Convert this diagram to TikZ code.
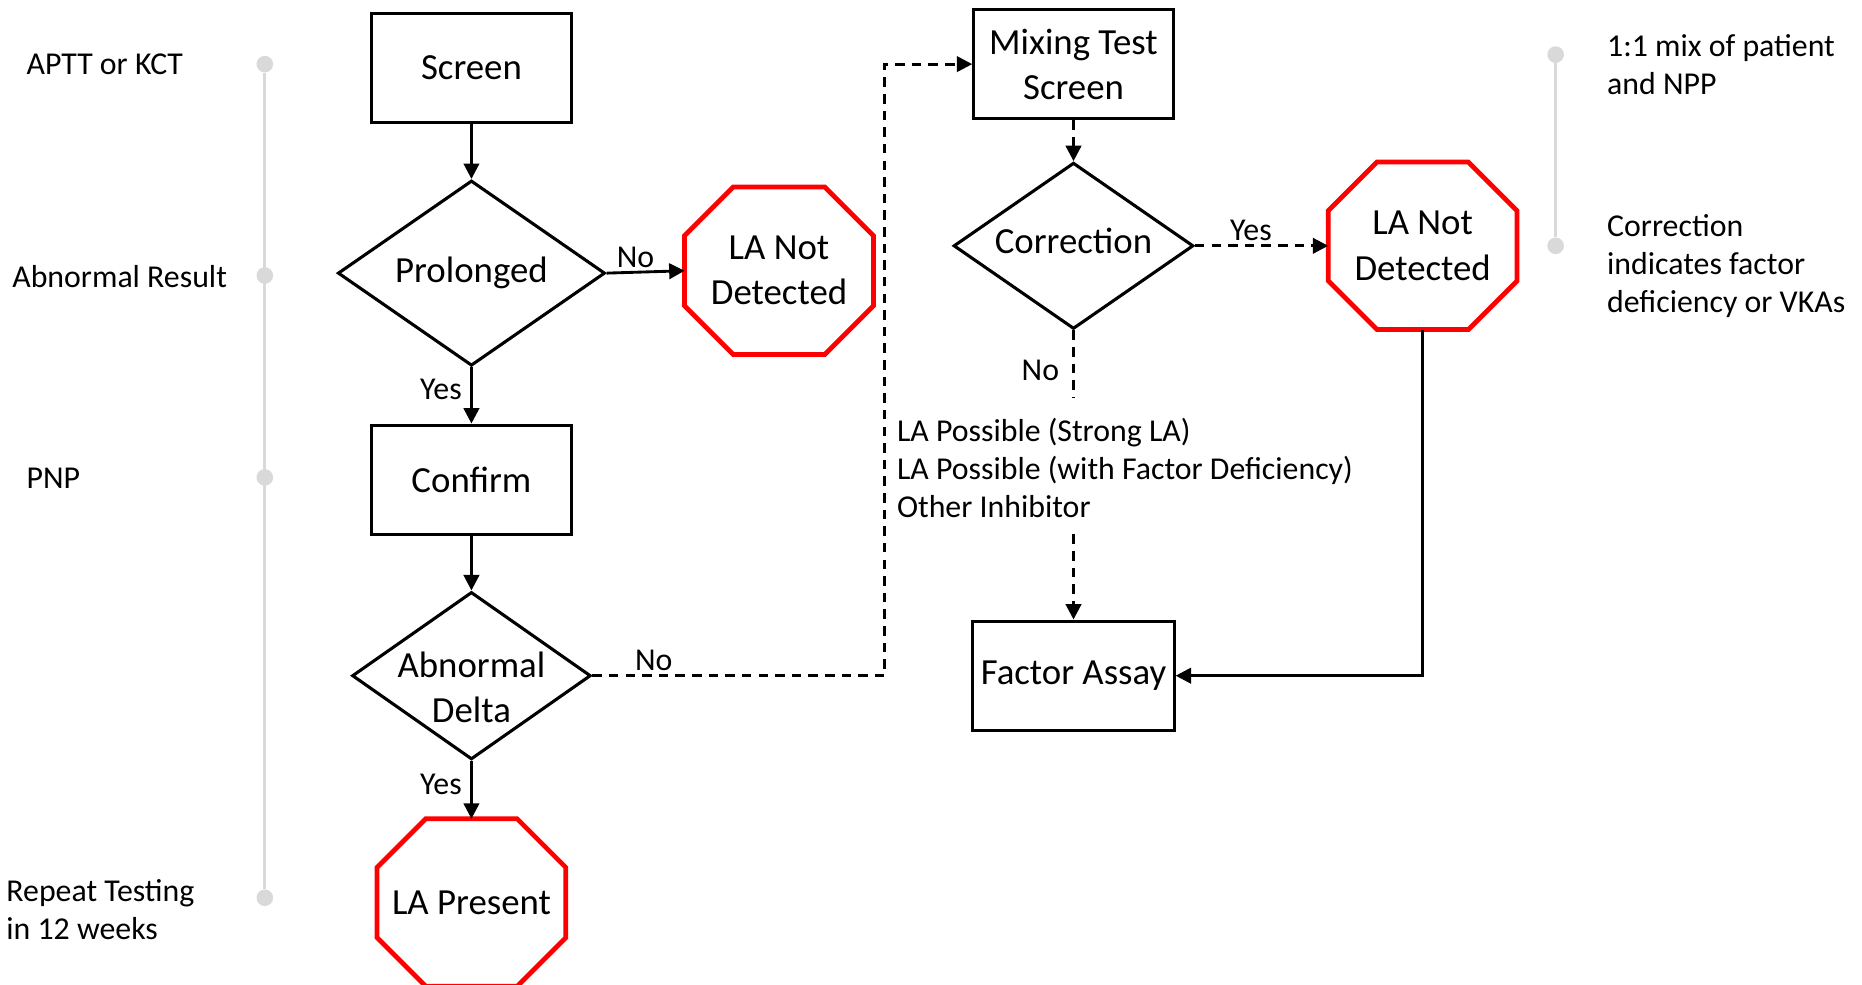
\documentclass[tikz,border=0pt]{standalone}
\usepackage{fontspec}
\setmainfont{Carlito}
\usetikzlibrary{shapes.geometric,arrows.meta}
\definecolor{tlgray}{HTML}{D9D9D9}
\definecolor{stopred}{HTML}{FF0000}
\newcommand{\nodefont}{\fontsize{15.5}{19}\selectfont}
\newcommand{\notefont}{\fontsize{13.4}{16}\selectfont}
% octagon drawn round a stop node
\newcommand{\octagonaround}[1]{%
  \draw[stopred, line width=2pt, line join=miter]
    ([xshift=20.5pt]#1.north west) -- ([xshift=-20.5pt]#1.north east)
    -- ([yshift=-20.5pt]#1.north east) -- ([yshift=20.5pt]#1.south east)
    -- ([xshift=-20.5pt]#1.south east) -- ([xshift=20.5pt]#1.south west)
    -- ([yshift=20.5pt]#1.south west) -- ([yshift=-20.5pt]#1.north west) -- cycle;}
\begin{document}
\begin{tikzpicture}[x=0.5pt, y=-0.5pt,
    procbox/.style={draw, line width=1.3pt, minimum width=84pt, minimum height=46pt, align=center, font=\nodefont},
    decbox/.style={diamond, draw, line width=1.3pt, aspect=1.43, inner sep=0pt},
    stopbox/.style={rectangle, outer sep=0pt, minimum width=79.5pt, minimum height=70.5pt, align=center, font=\nodefont},
    flowarrow/.style={line width=1.2pt, -{Triangle[length=6.5pt,width=6.5pt]}},
    optarrow/.style={flowarrow, dash pattern=on 4pt off 3pt},
    yesno/.style={font=\notefont, inner sep=1.5pt},
    sidenote/.style={font=\notefont, align=left, anchor=west, inner sep=0pt},
    decnote/.style={font=\nodefont, align=center},
    tldot/.style={circle, fill=tlgray, minimum size=7pt, inner sep=0pt},
    tlline/.style={draw=tlgray, line width=1.2pt}]
    \useasboundingbox (0,0) rectangle (1568,829);
    % Draw left time line
    \node[tldot] (l1) at (223,54) {};
    \node[tldot] (l2) at (223,232) {};
    \node[tldot] (l3) at (223,402) {};
    \node[tldot] (l4) at (223,756) {};
    \draw[tlline] (l1) -- (l4);
    \node[sidenote] (aptt) at (22,54) {APTT or KCT};
    \node[sidenote] (abres) at (10,233) {Abnormal Result};
    \node[sidenote] (pnp) at (22,403) {PNP};
    \node[sidenote] (repeat) at (5,766) {Repeat Testing\\in 12 weeks};
    % Draw right time line
    \node[tldot] (r1) at (1310,46) {};
    \node[tldot] (r2) at (1310,207) {};
    \draw[tlline] (r1) -- (r2);
    \node[sidenote] (mixnote) at (1353,54) {1:1 mix of patient\\and NPP};
    \node[sidenote] (corrnote) at (1353,224) {Correction\\indicates factor\\deficiency or VKAs};
    % Draw first column
    \node[procbox] (screen) at (397,57) {Screen};
    \node[decbox, minimum width=112.5pt, minimum height=78pt] (prolonged) at (397,230) {};
    \node[decnote] (prolongedtext) at (397,230) {Prolonged};
    \node[stopbox] (notdet1) at (656,228) {LA Not\\Detected};
    \octagonaround{notdet1}
    \node[procbox] (confirm) at (397,404) {Confirm};
    \node[decbox, minimum width=100.5pt, minimum height=70.5pt] (delta) at (397,569) {};
    \node[decnote] (deltatext) at (397,579) {Abnormal\\Delta};
    \node[stopbox] (present) at (397,760) {LA Present};
    \octagonaround{present}
    % Draw second column
    \node[procbox] (mixing) at (904,54) {Mixing Test\\Screen};
    \node[decbox, minimum width=101pt, minimum height=70pt] (correction) at (904,207) {};
    \node[decnote] (correctiontext) at (904,203) {Correction};
    \node[stopbox] (notdet2) at (1198,207) {LA Not\\Detected};
    \octagonaround{notdet2}
    \node[sidenote] (outcomes) at (755,394) {LA Possible (Strong LA)\\LA Possible (with Factor Deficiency)\\Other Inhibitor};
    \node[procbox] (assay) at (904,569) {Factor Assay};
    \coordinate (bend) at (745,569);
    \coordinate (noend) at (904,335);
    \coordinate (fromtext) at (904,450);
    % Draw connectors
    \draw[flowarrow] (screen) -- (prolonged);
    \draw[flowarrow] (prolonged.east) -- node[yesno, above, pos=0.37] {No} (notdet1.west);
    \draw[flowarrow] (prolonged) -- node[yesno, left=2pt, pos=0.4] {Yes} (confirm);
    \draw[flowarrow] (confirm) -- (delta);
    \draw[flowarrow] (delta) -- node[yesno, left=2pt, pos=0.4] {Yes} (present);
    \draw[optarrow] (delta.east) -- node[yesno, above, pos=0.21] {No} (bend) |- (mixing.west);
    \draw[optarrow] (mixing) -- (correction);
    \draw[optarrow] (correction.east) -- node[yesno, above, pos=0.42] {Yes} (notdet2.west);
    \draw[optarrow, -] (correction.south) -- node[yesno, left=4pt, pos=0.6] {No} (noend);
    \draw[optarrow] (fromtext) -- (assay);
    \draw[flowarrow] (notdet2.south) |- (assay.east);
\end{tikzpicture}
\end{document}
